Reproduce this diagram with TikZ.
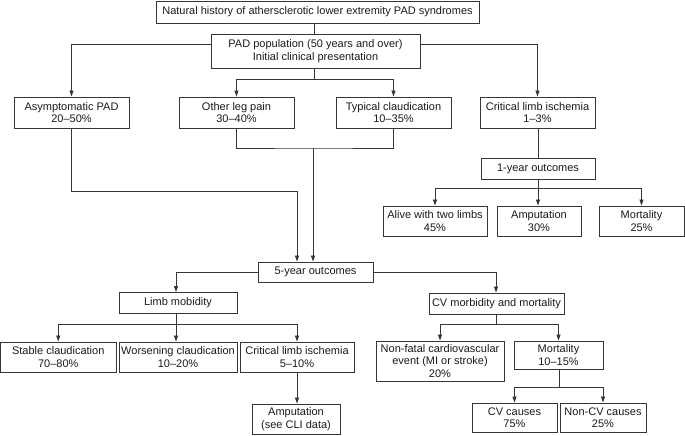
\documentclass[tikz,border=0pt]{standalone}
\usepackage{fontspec}
\setmainfont{Liberation Sans}
\usetikzlibrary{arrows.meta}
\definecolor{linec}{HTML}{363636}
\definecolor{txtc}{HTML}{1A1A1A}
\begin{document}
\begin{tikzpicture}[x=1pt,y=-1pt,
  box/.style={draw=linec, line width=0.95pt, inner sep=0pt, align=center, text=txtc,
    font=\fontsize{11}{12.4}\selectfont},
  conn/.style={draw=linec, line width=0.85pt},
  arr/.style={conn, -{Triangle[length=6pt,width=4pt]}}]
\useasboundingbox (0,0) rectangle (685,436);
% row 0
\node[box, minimum width=323pt, minimum height=22pt] (title) at (317.5,12) {Natural history of athersclerotic lower extremity PAD syndromes};
\node[box, minimum width=209pt, minimum height=34pt] (pad) at (315.5,51) {PAD population (50 years and over)\\Initial clinical presentation};
% row 1
\node[box, minimum width=115pt, minimum height=31pt] (asym) at (71.5,112.5) {Asymptomatic PAD\\20--50\%};
\node[box, minimum width=115pt, minimum height=31pt] (other) at (236.5,112.5) {Other leg pain\\30--40\%};
\node[box, minimum width=115pt, minimum height=31pt] (typ) at (393.5,112.5) {Typical claudication\\10--35\%};
\node[box, minimum width=115pt, minimum height=31pt] (cli1) at (537.5,112.5) {Critical limb ischemia\\1--3\%};
% 1-year
\node[box, minimum width=114pt, minimum height=21pt] (oney) at (538,168.5) {1-year outcomes};
\node[box, minimum width=104pt, minimum height=30pt] (alive) at (435,221) {Alive with two limbs\\45\%};
\node[box, minimum width=84pt, minimum height=30pt] (amp1) at (539,221) {Amputation\\30\%};
\node[box, minimum width=85pt, minimum height=30pt] (mort1) at (641.5,221) {Mortality\\25\%};
% 5-year
\node[box, minimum width=115pt, minimum height=20pt] (five) at (315.5,272) {5-year outcomes};
\node[box, minimum width=118pt, minimum height=21pt] (limb) at (178,303) {Limb mobidity};
\node[box, minimum width=135pt, minimum height=21pt] (cvmm) at (496.5,303.5) {CV morbidity and mortality};
\node[box, minimum width=115.5pt, minimum height=30pt] (stable) at (58.25,357) {Stable claudication\\70--80\%};
\node[box, minimum width=118pt, minimum height=30pt] (worse) at (178,357) {Worsening claudication\\10--20\%};
\node[box, minimum width=114pt, minimum height=30pt] (cli2) at (297,357) {Critical limb ischemia\\5--10\%};
\node[box, minimum width=88pt, minimum height=30pt] (amp2) at (296,419) {Amputation\\(see CLI data)};
\node[box, minimum width=128pt, minimum height=40pt] (nonfatal) at (440,361) {Non-fatal cardiovascular\\event (MI or stroke)\\20\%};
\node[box, minimum width=89pt, minimum height=28pt] (mort2) at (558.5,355) {Mortality\\10--15\%};
\node[box, minimum width=85pt, minimum height=29pt] (cvc) at (514.5,417.5) {CV causes\\75\%};
\node[box, minimum width=86pt, minimum height=29pt] (noncv) at (603,417.5) {Non-CV causes\\25\%};
% junction coordinates
\coordinate (j1) at (314,79);
\coordinate (j2) at (313,148);
\coordinate (j3) at (297,191);
\coordinate (j4) at (538,188);
\coordinate (j5) at (176,324);
\coordinate (j6) at (496,324);
\coordinate (j7) at (559,387);
% connectors
\draw[conn] (title.south -| j1) -- (pad.north -| j1);
\draw[arr] (pad.west |- 0,44) -| (asym.north);
\draw[arr] (pad.east |- 0,44) -| (cli1.north);
\draw[conn] (pad.south -| j1) -- (j1);
\draw[arr] (j1) -| (other.north);
\draw[arr] (j1) -| (typ.north);
\draw[conn] (other.south) |- (j2) -| (typ.south);
\draw[arr] (j2) -- (j2 |- five.north);
\draw[arr] (asym.south) |- (j3) -- (j3 |- five.north);
\draw[conn] (cli1.south -| j4) -- (oney.north -| j4);
\draw[conn] (oney.south -| j4) -- (j4);
\draw[arr] (j4) -| (alive.north);
\draw[arr] (j4) -- (amp1.north -| j4);
\draw[arr] (j4) -| (mort1.north);
\draw[arr] (five.west) -| (limb.north -| j5);
\draw[arr] (five.east) -| (cvmm.north -| j6);
\draw[conn] (limb.south -| j5) -- (j5);
\draw[arr] (j5) -| (stable.north);
\draw[arr] (j5) -- (j5 |- worse.north);
\draw[arr] (j5) -| (cli2.north);
\draw[arr] (cli2.south) -- (cli2.south |- amp2.north);
\draw[conn] (cvmm.south -| j6) -- (j6);
\draw[arr] (j6) -| (nonfatal.north);
\draw[arr] (j6) -| (mort2.north);
\draw[conn] (mort2.south -| j7) -- (j7);
\draw[arr] (j7) -| (cvc.north);
\draw[arr] (j7) -| (noncv.north);
\end{tikzpicture}
\end{document}
